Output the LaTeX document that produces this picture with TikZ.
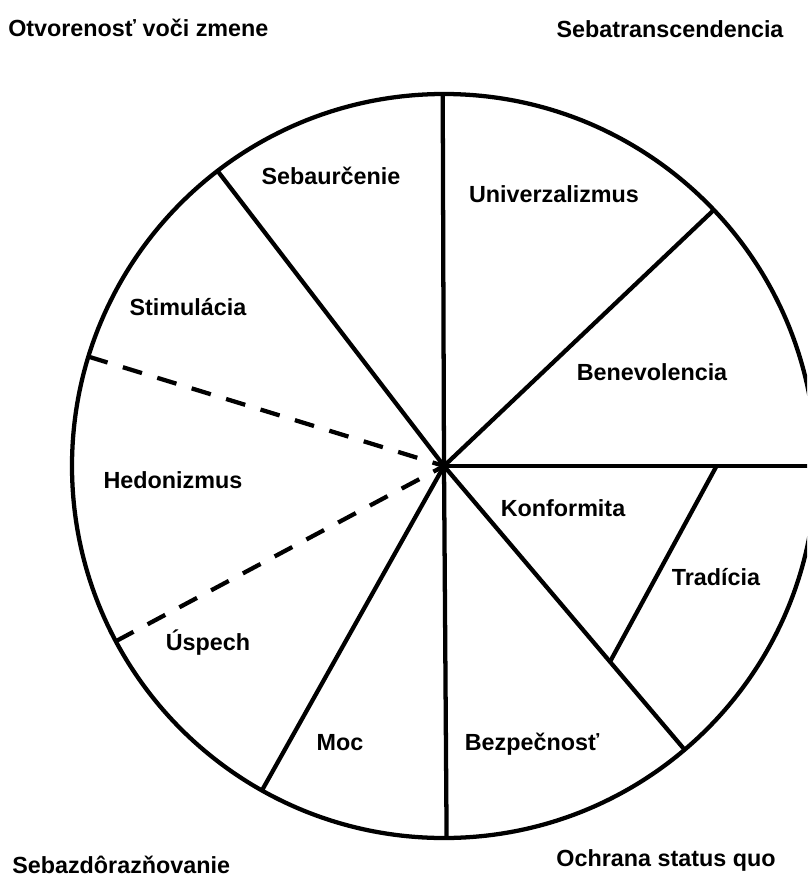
\documentclass[tikz,border=0pt]{standalone}
\usepackage{fontspec}
\setmainfont{Liberation Sans}
\usetikzlibrary{calc}
\begin{document}
\begin{tikzpicture}[x=0.75pt,y=-0.75pt,
  lab/.style={font=\fontsize{17.5}{20}\selectfont\bfseries, inner sep=0pt},
  edge/.style={line width=3.2pt},
  dashededge/.style={line width=3.2pt, dash pattern=on 15pt off 12pt}]
\useasboundingbox (0,0) rectangle (807,881);
\clip (0,0) rectangle (807,881);
\coordinate (c) at (444,466);
\draw[edge] (c) circle[radius=279pt];
% radial boundary points
\coordinate (top) at ([shift={(90.2:279pt)}]c);
\coordinate (bot) at ([shift={(-89.6:279pt)}]c);
\coordinate (ul) at ([shift={(127.5:279pt)}]c);
\coordinate (ur) at ([shift={(43.5:279pt)}]c);
\coordinate (rt) at ([shift={(0:279pt)}]c);
\coordinate (dr) at ([shift={(-49.7:279pt)}]c);
\coordinate (dl) at ([shift={(-119.3:279pt)}]c);
\coordinate (hl1) at ([shift={(162.9:279pt)}]c);
\coordinate (hl2) at ([shift={(208.1:279pt)}]c);
\coordinate (tr1) at (716,467);
\coordinate (tr2) at ($(c)!0.69!(dr)$);
\draw[edge] (c) -- (top);
\draw[edge] (c) -- (bot);
\draw[edge] (c) -- (ul);
\draw[edge] (c) -- (ur);
\draw[edge] (c) -- (rt);
\draw[edge] (c) -- (dr);
\draw[edge] (c) -- (dl);
\draw[dashededge] (hl1) -- (c);
\draw[dashededge] (hl2) -- (c);
\draw[edge] (tr1) -- (tr2);
% labels
\node[lab] (seb) at (331,176) {Sebaurčenie};
\node[lab] (uni) at (554,194) {Univerzalizmus};
\node[lab] (sti) at (188,307) {Stimulácia};
\node[lab] (ben) at (652,372) {Benevolencia};
\node[lab] (hed) at (173,480) {Hedonizmus};
\node[lab] (kon) at (563,508) {Konformita};
\node[lab] (tra) at (716,577) {Tradícia};
\node[lab] (usp) at (208,643) {Úspech};
\node[lab] (moc) at (340,743) {Moc};
\node[lab] (bez) at (532,744) {Bezpečnosť};
\node[lab, anchor=west] (otv) at (8,28) {Otvorenosť voči zmene};
\node[lab] (sbt) at (670,29) {Sebatranscendencia};
\node[lab, anchor=west] (sbz) at (12,865) {Sebazdôrazňovanie};
\node[lab] (och) at (666,860) {Ochrana status quo};
\end{tikzpicture}
\end{document}
